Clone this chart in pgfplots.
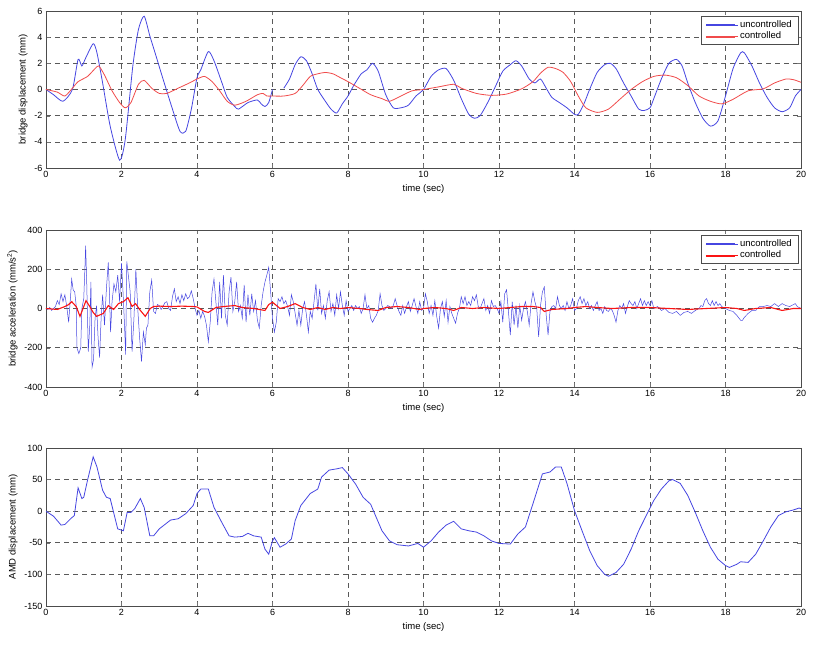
\documentclass[border=0pt]{standalone}
\usepackage{fontspec}
\setmainfont{Liberation Sans}
\usepackage{pgfplots}
\pgfplotsset{compat=1.18}
\definecolor{ublue}{RGB}{70,70,225}
\definecolor{cred}{RGB}{240,75,75}
\definecolor{accred}{RGB}{250,20,20}
\pgfplotsset{
 mystyle/.style={
  scale only axis, width=755pt, height=157pt,
  xmin=0,xmax=20, xtick={0,2,...,20},
  grid=major, major grid style={dash pattern=on 5pt off 4pt, black!65, line width=0.6pt},
  axis line style={black!70},
  tick style={black!55}, tick align=inside,
  ticklabel style={font=\fontsize{9}{10}\selectfont},
  label style={font=\fontsize{9.5}{11}\selectfont},
  /pgf/number format/assume math mode=true,
  xlabel={time (sec)},
  legend cell align=left,
  legend image code/.code={\fill[##1] (0pt,-0.45pt) rectangle (28pt,0.45pt); \path (0pt,0pt) -- (32pt,0pt);},
  legend style={at={(rel axis cs:0.996,0.965)}, anchor=north east, font=\fontsize{9.5}{11}\selectfont, draw=black!70, row sep=-1pt, inner xsep=4pt},
  unbounded coords=jump,
 }
}
\begin{document}
\begin{tikzpicture}
\path[use as bounding box] (0,0) rectangle (838pt,660pt);
% ---------- panel 1
\begin{axis}[mystyle, at={(46pt,492pt)}, anchor=south west,
  ymin=-6, ymax=6, ytick={-6,-4,...,6}, ylabel={bridge displacement (mm)}]
\addlegendimage{ublue}
\addlegendentry{uncontrolled}
\addlegendimage{cred}
\addlegendentry{controlled}
\addplot[ublue, line width=0.8pt, smooth, tension=0.4, forget plot] table {
0 0
0.2 -0.4
0.45 -0.9
0.7 0
0.85 2.3
0.95 1.8
1.05 2.4
1.25 3.5
1.35 2.8
1.5 0.5
1.7 -2.8
1.95 -5.4
2.1 -3.8
2.3 1.8
2.45 4.6
2.6 5.6
2.75 4.1
2.9 2.7
3.1 0.8
3.35 -1.5
3.55 -3.2
3.7 -3.2
3.85 -1.5
4.0 0.9
4.1 1.5
4.3 2.9
4.45 2.2
4.65 0.6
4.8 -0.6
5.0 -1.3
5.1 -1.5
5.35 -1.0
5.6 -0.8
5.7 -1.1
5.8 -1.3
5.9 -1.0
6.0 0
6.15 nan
6.3 0.1
6.45 0.8
6.6 1.9
6.75 2.5
6.9 2.2
7.05 1.2
7.2 0
7.4 -0.9
7.55 -1.5
7.7 -1.8
7.85 -1.1
8.0 -0.5
8.15 0.3
8.35 1.2
8.5 1.5
8.65 2.0
8.8 1.4
9.0 -0.4
9.2 -1.4
9.4 -1.4
9.6 -1.2
9.8 -0.5
10.0 0
10.2 1.0
10.4 1.5
10.6 1.6
10.8 0.7
11.0 -0.7
11.2 -1.9
11.35 -2.2
11.5 -2.0
11.7 -1.0
11.9 0.2
12.1 1.4
12.3 1.9
12.45 2.2
12.6 1.8
12.8 0.8
12.95 0.5
13.1 0.8
13.25 0.1
13.4 -0.6
13.6 -1.0
13.8 -1.4
14.0 -1.9
14.1 -1.9
14.25 -1.1
14.4 0
14.6 1.3
14.8 1.9
14.95 2.0
15.1 1.6
15.3 0.5
15.5 -0.5
15.7 -1.5
15.85 -1.6
16.0 -1.4
16.1 -0.7
16.3 0.8
16.5 2.0
16.7 2.3
16.85 1.8
17.0 0.5
17.2 -1.0
17.4 -2.2
17.6 -2.8
17.8 -2.4
18.0 -0.5
18.2 1.6
18.4 2.8
18.5 2.8
18.7 1.8
18.9 0.5
19.1 -0.6
19.3 -1.4
19.5 -1.7
19.7 -1.4
19.85 -0.5
20 0
};
\addplot[cred, line width=0.8pt, smooth, tension=0.4, forget plot] table {
0 0
0.3 -0.2
0.5 -0.5
0.7 0.1
0.85 0.6
1.1 1.0
1.3 1.6
1.4 1.8
1.55 1.1
1.75 -0.1
1.95 -1.0
2.1 -1.4
2.25 -1.0
2.45 0.4
2.6 0.7
2.8 0.1
3.0 -0.3
3.2 -0.3
3.5 0.1
3.8 0.5
4.0 0.8
4.2 1.0
4.4 0.6
4.6 -0.1
4.8 -0.9
5.0 -1.2
5.3 -0.9
5.6 -0.4
5.75 -0.3
5.85 -0.5
6.0 -0.5
6.3 -0.5
6.6 -0.3
6.8 0.3
7.0 1.0
7.2 1.2
7.4 1.3
7.6 1.2
7.8 0.9
8.0 0.6
8.3 0.1
8.6 -0.4
8.9 -0.7
9.1 -0.9
9.4 -0.5
9.7 -0.1
10.0 0
10.4 0.2
10.8 0.4
11.0 0.1
11.4 -0.3
11.8 -0.45
12.2 -0.35
12.6 0.05
12.9 0.6
13.1 1.25
13.3 1.7
13.5 1.6
13.7 1.3
13.9 0.6
14.1 -0.5
14.3 -1.4
14.6 -1.75
14.9 -1.5
15.2 -0.75
15.5 0
15.8 0.6
16.1 1.0
16.4 1.1
16.7 0.9
17.0 0.3
17.3 -0.5
17.6 -0.9
17.9 -1.1
18.2 -0.75
18.6 -0.1
19.0 0.05
19.3 0.5
19.6 0.8
19.8 0.75
20 0.55
};
\end{axis}
% ---------- panel 2
\begin{axis}[mystyle, at={(46pt,273pt)}, anchor=south west,
  ymin=-400, ymax=400, ytick={-400,-200,...,400}, ylabel={bridge acceleration (mm/s\textsuperscript{2})}]
\addlegendimage{ublue}
\addlegendentry{uncontrolled}
\addlegendimage{accred}
\addlegendentry{controlled}
\addplot[ublue, line width=0.5pt, forget plot] table {
0 0
0.05 -5
0.1 5
0.15 -10
0.2 0
0.25 10
0.3 40
0.35 20
0.4 75
0.45 35
0.5 70
0.55 10
0.6 -70
0.65 60
0.68 150
0.72 95
0.76 85
0.8 15
0.82 -200
0.87 -230
0.92 -200
0.95 0
1.0 50
1.03 200
1.05 320
1.08 120
1.12 -220
1.16 -85
1.19 135
1.22 -300
1.26 -260
1.3 -50
1.34 15
1.38 -150
1.42 -250
1.46 -50
1.5 70
1.55 -85
1.6 100
1.65 235
1.68 85
1.71 -120
1.75 35
1.8 125
1.85 85
1.9 170
1.95 35
2.0 230
2.04 85
2.08 -85
2.11 -235
2.14 240
2.18 170
2.23 85
2.28 -220
2.33 -50
2.38 200
2.43 0
2.48 -150
2.53 -270
2.58 -120
2.63 -185
2.66 -100
2.7 -85
2.75 85
2.8 145
2.85 -15
2.9 -25
2.95 20
3.0 15
3.05 -5
3.1 10
3.15 30
3.2 35
3.25 0
3.3 -10
3.35 60
3.4 100
3.45 35
3.5 60
3.55 25
3.6 70
3.65 40
3.7 75
3.75 50
3.8 60
3.85 90
3.9 50
3.95 0
4.0 -35
4.05 -10
4.1 -50
4.15 -15
4.2 -40
4.25 -85
4.3 -170
4.35 -70
4.4 85
4.45 150
4.5 35
4.55 -85
4.6 135
4.65 -50
4.7 170
4.75 -35
4.8 -85
4.85 85
4.9 160
4.95 -15
5.0 35
5.05 135
5.1 -15
5.15 15
5.2 -50
5.25 120
5.3 -70
5.35 70
5.4 -35
5.45 75
5.5 -15
5.55 40
5.6 -60
5.65 -100
5.7 15
5.75 85
5.8 135
5.85 170
5.9 210
5.95 85
6.0 -50
6.05 -120
6.1 -70
6.15 50
6.2 35
6.25 60
6.3 25
6.35 40
6.4 10
6.45 -35
6.5 70
6.55 35
6.6 -25
6.65 -85
6.7 -10
6.75 -85
6.8 0
6.85 35
6.9 -35
6.95 -120
7.0 -15
7.05 -50
7.1 35
7.15 125
7.2 -10
7.25 100
7.3 -25
7.35 15
7.4 -50
7.45 40
7.5 85
7.55 -15
7.6 25
7.65 -35
7.7 70
7.75 0
7.8 85
7.85 15
7.9 -35
7.95 40
8.0 -15
8.05 0
8.1 15
8.15 -10
8.2 15
8.25 0
8.3 10
8.35 -25
8.4 0
8.45 70
8.5 0
8.55 15
8.6 -50
8.65 -70
8.7 -50
8.75 -35
8.8 -10
8.85 75
8.9 15
8.95 -10
9.0 0
9.05 15
9.1 10
9.15 0
9.2 15
9.25 50
9.3 15
9.35 -15
9.4 -35
9.45 15
9.5 -25
9.55 10
9.6 35
9.65 -15
9.7 15
9.75 50
9.8 10
9.85 -25
9.9 35
9.95 -10
10.0 0
10.05 75
10.1 35
10.15 -25
10.2 15
10.25 -35
10.3 40
10.35 -40
10.4 -100
10.45 0
10.5 35
10.55 -40
10.6 40
10.65 -70
10.7 10
10.75 -25
10.8 -50
10.85 -75
10.9 -25
10.95 0
11.0 60
11.05 25
11.1 60
11.15 15
11.2 35
11.25 15
11.3 60
11.35 40
11.4 70
11.45 10
11.5 0
11.55 25
11.6 50
11.65 -10
11.7 15
11.75 -25
11.8 40
11.85 10
11.9 15
11.95 0
12.0 -25
12.05 35
12.1 -70
12.15 75
12.2 95
12.25 -15
12.3 -135
12.35 35
12.4 -85
12.45 15
12.5 -100
12.55 15
12.6 -60
12.65 0
12.7 35
12.75 -15
12.8 -85
12.85 25
12.9 85
12.95 35
13.0 0
13.05 -145
13.1 15
13.15 85
13.2 110
13.25 -35
13.3 -135
13.35 -15
13.4 10
13.45 15
13.5 0
13.55 60
13.6 15
13.65 0
13.7 15
13.75 -10
13.8 35
13.85 0
13.9 15
13.95 50
14.0 -10
14.05 0
14.1 40
14.15 60
14.2 25
14.25 50
14.3 15
14.35 35
14.4 0
14.45 15
14.5 -10
14.55 15
14.6 35
14.65 -10
14.7 0
14.75 -25
14.8 10
14.85 -10
14.9 -15
14.95 0
15.0 -10
15.05 -35
15.1 -70
15.15 -10
15.2 15
15.25 0
15.3 25
15.35 -25
15.4 10
15.45 40
15.5 25
15.55 15
15.6 35
15.65 0
15.7 25
15.75 50
15.8 15
15.85 40
15.9 15
15.95 35
16.0 15
16.05 40
16.1 0
16.2 10
16.3 -10
16.4 0
16.5 -20
16.6 -25
16.7 -15
16.8 -35
16.9 -20
17.0 -15
17.1 -25
17.2 -10
17.3 0
17.35 15
17.4 10
17.45 40
17.5 50
17.55 25
17.6 15
17.65 40
17.7 15
17.75 35
17.8 15
17.85 25
17.9 10
18.0 0
18.1 -10
18.2 -15
18.3 -35
18.4 -60
18.45 -60
18.5 -45
18.6 -25
18.7 -10
18.8 -10
18.9 10
19.0 10
19.1 15
19.2 10
19.3 25
19.4 10
19.5 25
19.6 15
19.7 10
19.8 20
19.85 25
19.9 10
20 0
};
\addplot[accred, line width=1.1pt, forget plot] table {
0 0
0.3 -5
0.5 10
0.6 20
0.68 35
0.8 10
0.9 -40
1.0 10
1.06 40
1.16 10
1.25 -20
1.34 -40
1.52 -25
1.65 15
1.79 -5
1.92 25
2.05 35
2.17 55
2.28 10
2.37 25
2.5 -10
2.63 -40
2.76 0
2.85 10
3.0 12
3.3 10
3.6 12
3.9 10
4.0 8
4.2 -15
4.3 -20
4.5 5
4.7 10
5.0 15
5.2 5
5.5 0
5.8 -10
5.9 20
6.0 32
6.2 0
6.4 10
6.6 25
6.8 5
7.0 -5
7.2 5
7.4 -5
7.6 5
7.8 0
8.0 5
8.3 0
8.5 -5
8.8 -10
9.0 5
9.3 10
9.6 5
9.9 -5
10 0
10.3 5
10.6 0
10.8 -10
11.0 5
11.3 0
11.6 5
12.0 0
12.3 5
12.6 10
12.9 10
13.1 5
13.2 -15
13.4 -5
13.8 0
14.0 5
14.3 10
14.6 5
15.0 0
15.5 5
16 5
16.5 0
17 -5
17.5 0
18 5
18.3 0
18.5 -10
18.8 0
19.2 5
19.5 -10
19.8 0
20 0
};
\end{axis}
% ---------- panel 3
\begin{axis}[mystyle, at={(46pt,54pt)}, anchor=south west, height=158pt,
  ymin=-150, ymax=100, ytick={-150,-100,...,100}, ylabel={AMD displacement (mm)}]
\addplot[ublue, line width=0.8pt] table {
0 0
0.2 -8
0.4 -22
0.5 -21
0.65 -12
0.75 -7
0.85 37
0.95 20
1.0 22
1.1 49
1.25 86
1.35 70
1.5 33
1.6 22
1.7 20
1.8 -4
1.9 -28
2.05 -31
2.15 -2
2.25 -2
2.35 4
2.5 20
2.6 6
2.75 -39
2.85 -39
3.0 -28
3.3 -14
3.5 -12
3.7 -4
3.9 9
4.0 28
4.1 35
4.3 35
4.45 6
4.65 -17
4.85 -39
5.0 -41
5.2 -40
5.35 -35
5.5 -39
5.7 -41
5.8 -60
5.9 -68
6.0 -47
6.05 -42
6.2 -57
6.35 -52
6.5 -44
6.6 -15
6.75 9
7.0 28
7.2 35
7.3 54
7.5 65
7.7 67
7.85 69
8.0 59
8.2 43
8.4 22
8.6 11
8.75 -10
8.9 -31
9.1 -47
9.3 -53
9.6 -55
9.85 -51
10.0 -57
10.2 -47
10.4 -33
10.6 -22
10.8 -16
11.0 -28
11.2 -31
11.4 -33
11.6 -39
11.8 -47
12.0 -51
12.3 -52
12.5 -36
12.7 -25
12.9 12
13.15 59
13.35 62
13.5 70
13.65 70
13.8 44
14.0 1
14.2 -31
14.4 -62
14.6 -86
14.8 -100
14.9 -103
15.1 -97
15.3 -84
15.5 -60
15.7 -31
15.9 -7
16.1 17
16.3 35
16.5 48
16.6 50
16.8 44
17.0 25
17.2 -2
17.4 -31
17.6 -57
17.8 -76
18.0 -86
18.1 -89
18.3 -84
18.4 -80
18.6 -81
18.8 -68
19.0 -47
19.2 -25
19.4 -7
19.6 -1
19.8 2
19.95 5
20 4
};
\end{axis}
\end{tikzpicture}
\end{document}
